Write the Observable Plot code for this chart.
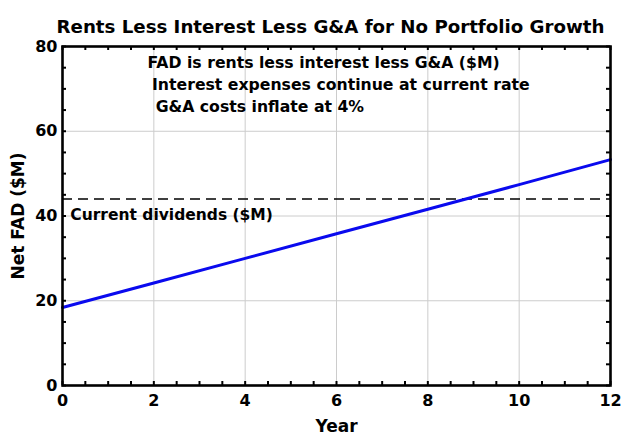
<!DOCTYPE html>
<html>
<head>
<meta charset="utf-8">
<script src="https://cdn.jsdelivr.net/npm/d3@7"></script>
<script src="https://cdn.jsdelivr.net/npm/@observablehq/plot@0.6"></script>
<style>
  html, body { margin: 0; padding: 0; background: #fff; }
  svg { font-family: "DejaVu Sans", "Liberation Sans", Arial, sans-serif; }
</style>
</head>
<body>
<div id="chart"></div>
<script>
// Data
const years = [0, 2, 4, 6, 8, 10, 12];
const netFAD = [18.4, 24.2, 30.0, 35.8, 41.6, 47.4, 53.3];
const currentDividends = 44;
const xTicks = [0, 2, 4, 6, 8, 10, 12];
const yTicks = [0, 20, 40, 60, 80];
const xMinor = d3.range(0, 12.01, 0.5);
const yMinor = d3.range(0, 80.01, 5);
const title = "Rents Less Interest Less G&A for No Portfolio Growth";
const notes = [
  "FAD is rents less interest less G&A ($M)",
  "Interest expenses continue at current rate",
  "G&A costs inflate at 4%"
];
const dividendLabel = "Current dividends ($M)";

const data = years.map((y, i) => ({year: y, fad: netFAD[i]}));

const W = 640, H = 438;
const mL = 62, mR = 30, mT = 46, mB = 53;
const frameH = H - mT - mB;
const frameW = W - mL - mR;
const tk = 4;
const bold = {fontWeight: "bold", fill: "black", lineAnchor: "middle"};

const chart = Plot.plot({
  width: W,
  height: H,
  marginLeft: mL,
  marginRight: mR,
  marginTop: mT,
  marginBottom: mB,
  x: {domain: [0, 12]},
  y: {domain: [0, 80]},
  marks: [
    Plot.ruleX(xTicks.filter(d => d > 0 && d < 12), {stroke: "#cccccc", strokeWidth: 1}),
    Plot.ruleY(yTicks.filter(d => d > 0 && d < 80), {stroke: "#cccccc", strokeWidth: 1}),
    // minor ticks inward on all four sides
    Plot.ruleX(xMinor, {insetTop: frameH - tk, stroke: "black", strokeWidth: 2}),
    Plot.ruleX(xMinor, {insetBottom: frameH - tk, stroke: "black", strokeWidth: 2}),
    Plot.ruleY(yMinor, {insetRight: frameW - tk, stroke: "black", strokeWidth: 2}),
    Plot.ruleY(yMinor, {insetLeft: frameW - tk, stroke: "black", strokeWidth: 2}),
    Plot.ruleY([currentDividends], {stroke: "black", strokeWidth: 1.6, strokeDasharray: "10,6"}),
    Plot.line(data, {x: "year", y: "fad", stroke: "#0a0aee", strokeWidth: 3}),
    Plot.frame({stroke: "black", strokeWidth: 2.6}),
    Plot.axisX({ticks: xTicks, tickSize: 0, tickPadding: 9, fontSize: 16, fontWeight: "bold", tickFormat: d => d, label: null}),
    Plot.axisY({ticks: yTicks, tickSize: 0, tickPadding: 5, fontSize: 16, fontWeight: "bold", tickFormat: d => d, label: null}),
    Plot.text([title], {frameAnchor: "top", dy: -19, dx: -6, fontSize: 18.2, ...bold}),
    Plot.text(["Year"], {frameAnchor: "bottom", dy: 41.5, fontSize: 17, ...bold}),
    Plot.text(["Net FAD ($M)"], {frameAnchor: "left", dx: -44, rotate: -90, textAnchor: "middle", fontSize: 17, ...bold}),
    Plot.text([notes[0]], {x: 1.86, y: 76.0, textAnchor: "start", fontSize: 15.7, ...bold}),
    Plot.text([notes[1]], {x: 1.96, y: 71.0, textAnchor: "start", fontSize: 15.7, ...bold}),
    Plot.text([notes[2]], {x: 2.04, y: 65.8, textAnchor: "start", fontSize: 15.7, ...bold}),
    Plot.text([dividendLabel], {x: 0.17, y: 40.2, textAnchor: "start", fontSize: 15.5, ...bold})
  ]
});
document.getElementById("chart").appendChild(chart);
</script>
</body>
</html>
